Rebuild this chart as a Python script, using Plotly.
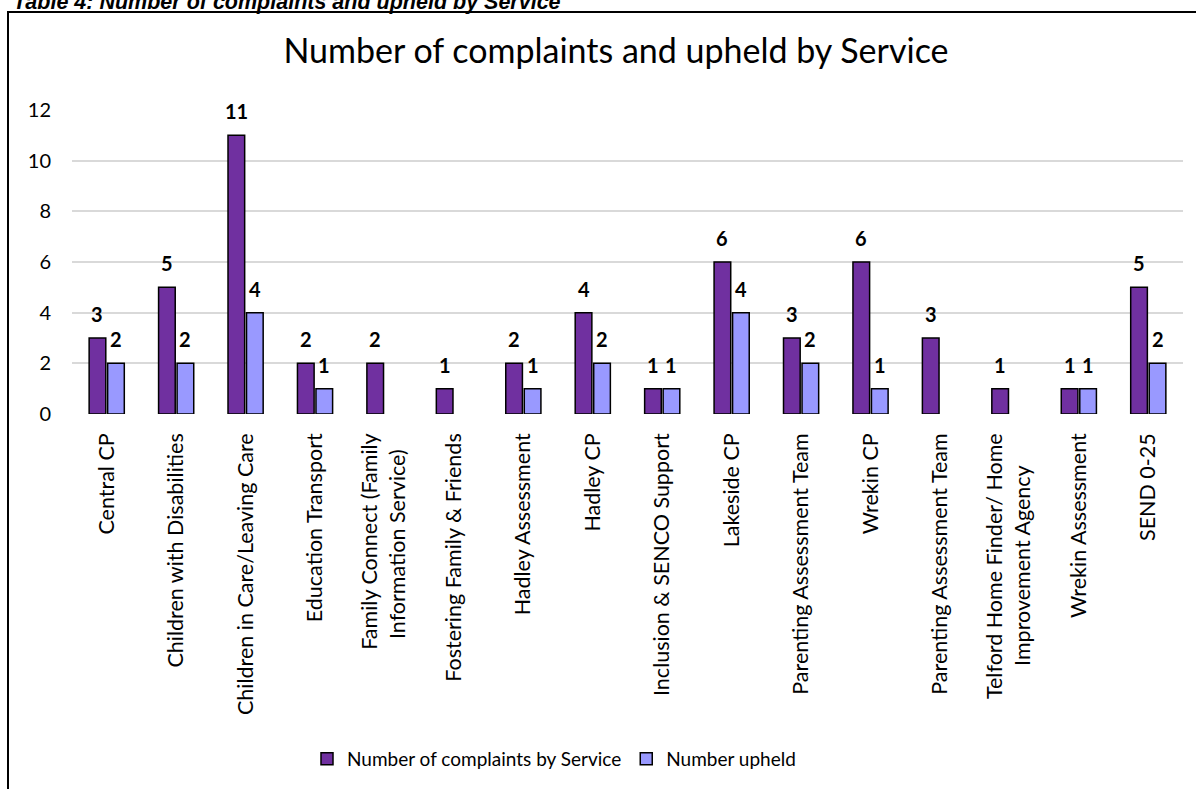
import plotly.graph_objects as go

PAD = "\u2800"
services = [
    "Central CP",
    "Children with Disabilities",
    "Children in Care/Leaving Care",
    "Education Transport",
    "Family Connect (Family<br>Information Service)" + PAD * 1,
    "Fostering Family & Friends",
    "Hadley Assessment",
    "Hadley CP",
    "Inclusion & SENCO Support",
    "Lakeside CP",
    "Parenting Assessment Team",
    "Wrekin CP",
    "Parenting Assessment Team",
    "Telford Home Finder/ Home<br>Improvement Agency" + PAD * 2,
    "Wrekin Assessment",
    "SEND 0-25",
]
complaints = [3, 5, 11, 2, 2, 1, 2, 4, 1, 6, 3, 6, 3, 1, 1, 5]
upheld = [2, 2, 4, 1, None, None, 1, 2, 1, 4, 2, 1, None, None, 1, 2]
y_ticks = [0, 2, 4, 6, 8, 10, 12]

W, H = 1196, 789
L, R, T, B = 72, 13, 110, 375
PW, PH = W - L - R, H - T - B
FONT = "Lato"
BARGAP, GROUPGAP = 0.467, 0.1


def px(xp):
    return (xp - L) / PW


def py(yp):
    return (H - B - yp) / PH


xs = list(range(len(services)))

fig = go.Figure()
fig.add_bar(
    x=xs, y=complaints, name="Number of complaints by Service",
    marker=dict(color="#7030A0", line=dict(color="black", width=1.5)),
)
fig.add_bar(
    x=xs, y=upheld, name="Number upheld",
    marker=dict(color="#9999FF", line=dict(color="black", width=1.5)),
)

off = (1 - BARGAP) / 4
annotations = []
for series, sign in ((complaints, -1), (upheld, 1)):
    for i, v in enumerate(series):
        if v is None:
            continue
        annotations.append(dict(
            x=i + sign * off, y=v, xref="x", yref="y", text=f"<b>{v}</b>",
            showarrow=False, yanchor="bottom", yshift=10,
            font=dict(family=FONT, size=20, color="black"),
        ))

annotations.append(dict(
    x=px(11), y=py(2), xref="paper", yref="paper", xanchor="left", yanchor="middle",
    text="<b><i>Table 4: Number of complaints and upheld by Service</i></b>",
    showarrow=False, font=dict(family="Liberation Sans", size=21.5, color="black"),
))

shapes = [dict(
    type="rect", xref="paper", yref="paper",
    x0=px(8), x1=px(W + 10), y0=py(H + 10), y1=py(12),
    line=dict(color="black", width=2), fillcolor="rgba(0,0,0,0)", layer="below",
)]

fig.update_layout(
    width=W, height=H,
    margin=dict(l=L, r=R, t=T, b=B),
    paper_bgcolor="white", plot_bgcolor="white",
    barmode="group", bargap=BARGAP, bargroupgap=GROUPGAP,
    title=dict(
        text="Number of complaints and upheld by Service",
        x=px(616), xanchor="center", xref="paper",
        y=1 - 51 / H, yanchor="middle",
        font=dict(family=FONT, size=34, color="black"),
    ),
    font=dict(family=FONT, color="black"),
    xaxis=dict(
        tickmode="array", tickvals=xs, ticktext=services, tickangle=-90,
        range=[-0.5, len(services) - 0.5], showgrid=False, zeroline=False,
        showline=False, ticks="", ticklabelstandoff=14,
        tickfont=dict(family=FONT, size=21.5, color="black"),
    ),
    yaxis=dict(
        range=[0, 12], tickvals=y_ticks, showgrid=True, gridcolor="#d9d9d9",
        gridwidth=1.5, zeroline=False, showline=False, ticks="",
        ticklabelstandoff=20, tickfont=dict(family=FONT, size=20, color="black"),
    ),
    showlegend=True,
    legend=dict(
        orientation="h", x=px(554), xanchor="center", y=py(759), yanchor="middle",
        font=dict(family=FONT, size=19, color="black"), itemwidth=30,
        traceorder="normal",
    ),
    annotations=annotations,
    shapes=shapes,
)

fig.write_html("out.html")
